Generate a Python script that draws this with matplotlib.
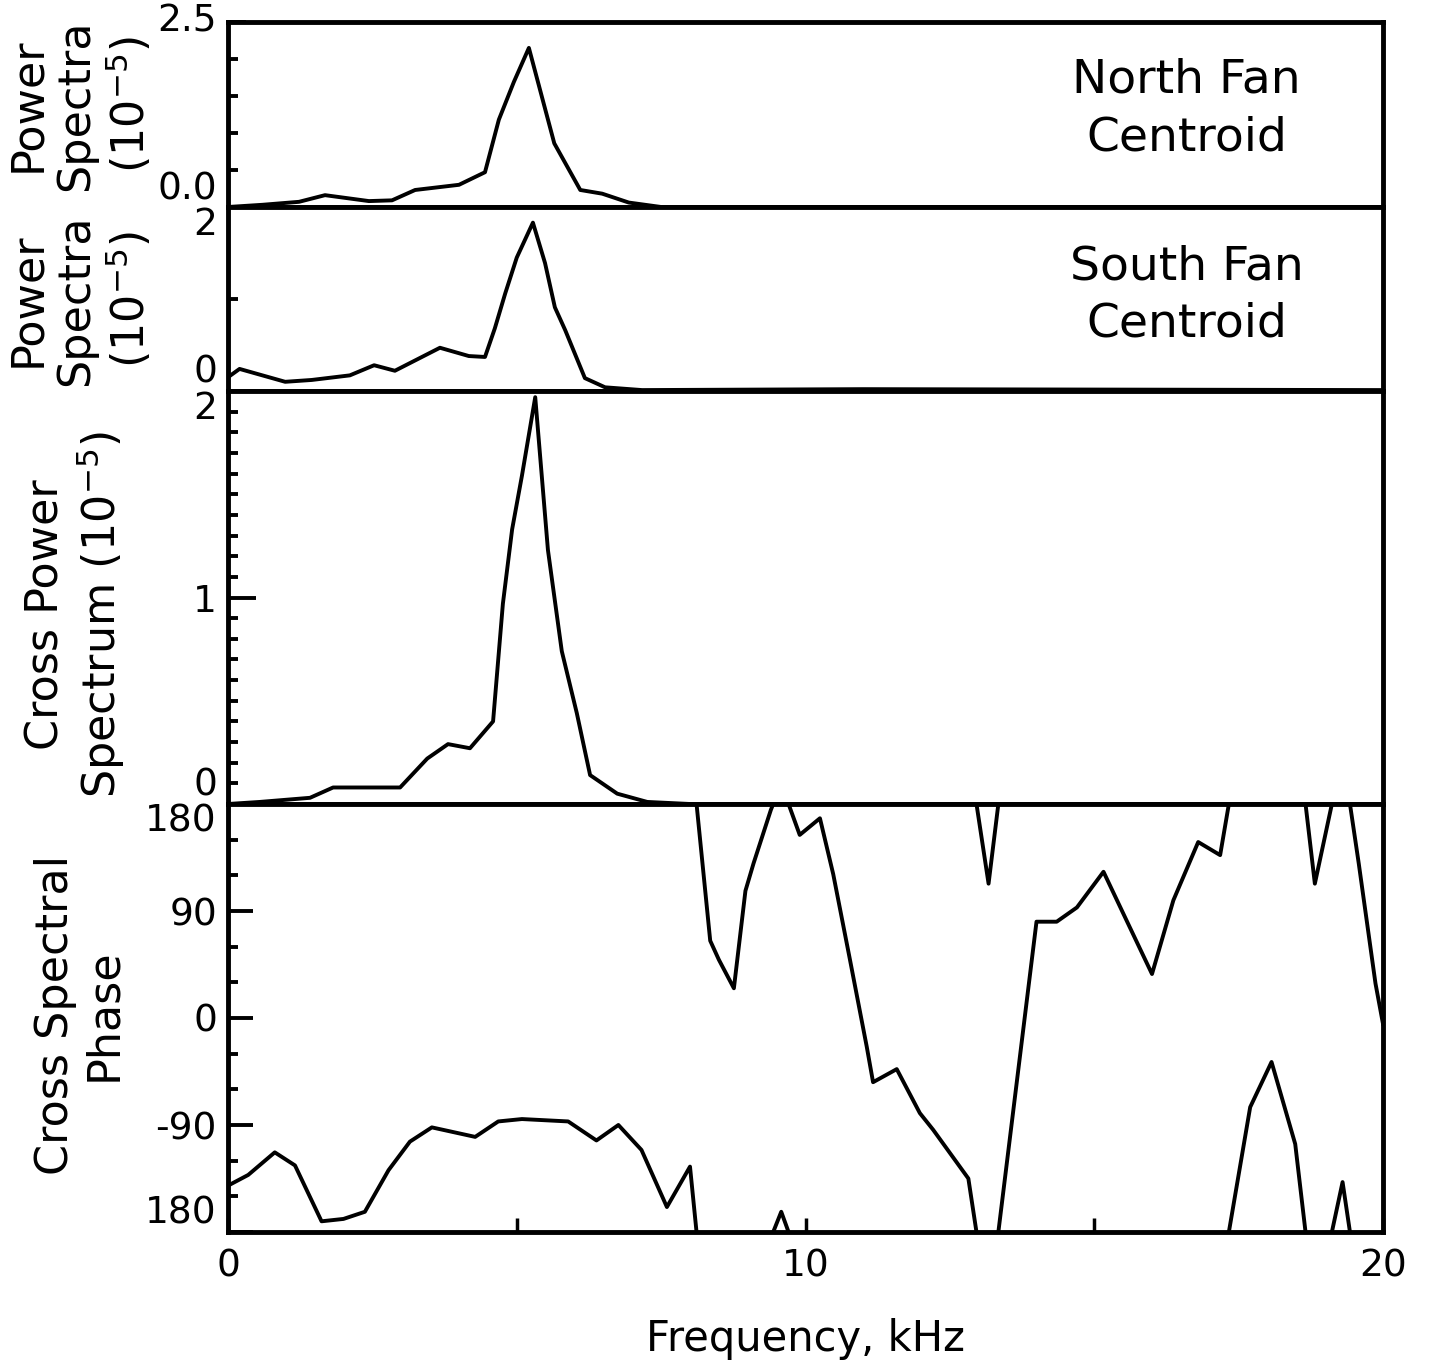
import numpy as np
import matplotlib
matplotlib.use("Agg")
import matplotlib.pyplot as plt

# North fan centroid power spectrum (1e-5)
north_freq = [0.0, 0.6, 1.23, 1.68, 2.44, 2.84, 3.24, 4.0, 4.45, 4.69, 4.95, 5.21,
              5.65, 6.1, 6.48, 6.94, 7.5, 20.0]
north_power = [0.0, 0.03, 0.07, 0.16, 0.08, 0.09, 0.23, 0.30, 0.47, 1.18, 1.69, 2.15,
               0.86, 0.23, 0.18, 0.06, 0.0, 0.0]

# South fan centroid power spectrum (1e-5)
south_freq = [0.0, 0.2, 0.99, 1.45, 2.11, 2.53, 2.89, 3.67, 4.17, 4.45, 4.62, 4.8,
              5.0, 5.28, 5.49, 5.66, 5.84, 6.18, 6.53, 7.17, 11.0, 20.0]
south_power = [0.15, 0.24, 0.10, 0.12, 0.17, 0.28, 0.22, 0.47, 0.38, 0.37, 0.68, 1.06,
               1.45, 1.83, 1.39, 0.91, 0.66, 0.14, 0.04, 0.01, 0.02, 0.01]

# cross power spectrum (1e-5)
cross_freq = [0.0, 0.55, 1.42, 1.82, 2.98, 3.45, 3.81, 4.19, 4.59, 4.76, 4.92, 5.09,
              5.32, 5.54, 5.78, 6.04, 6.27, 6.74, 7.26, 8.0, 20.0]
cross_power = [0.0, 0.01, 0.03, 0.08, 0.08, 0.22, 0.29, 0.27, 0.40, 0.97, 1.33, 1.59,
               1.97, 1.23, 0.74, 0.44, 0.14, 0.05, 0.01, 0.0, 0.0]

# cross spectral phase, degrees (unwrapped; drawn modulo 360)
phase_freq = [0.0, 0.35, 0.81, 1.16, 1.62, 2.0, 2.37, 2.78, 3.15, 3.53, 4.28, 4.68,
              5.09, 5.89, 6.38, 6.76, 7.16, 7.6, 8.0, 8.35, 8.5, 8.76, 8.96, 9.1,
              9.4, 9.58, 9.9, 10.25, 10.48, 10.77, 11.06, 11.17, 11.58, 11.98, 12.21,
              12.82, 13.17, 14.0, 14.35, 14.7, 15.16, 15.56, 16.0, 16.37, 16.8, 17.18,
              17.7, 18.07, 18.48, 18.82, 19.3, 19.58, 19.87, 20.0]
phase_deg = [-141, -132, -113, -124, -171, -169, -163, -128, -104, -92, -100, -87,
             -85, -87, -103, -90, -111, -159, -125, -295, -311, -335, -253, -230,
             -185, -163, -206, -192, -239, -311, -384, -414, -403, -440, -454,
             -495, -607, -279, -279, -267, -237, -278, -323, -261, -212, -223,
             -75, -37, -106, -247, -138, -230, -331, -365]

W, H = 1429, 1367
LEFT, RIGHT = 228, 1383
LW = 2.8
SPINE = 3.5

plt.rcParams["font.family"] = ["DejaVu Sans"]

fig = plt.figure(figsize=(W / 100, H / 100), dpi=100)


def box(top, bottom):
    return [LEFT / W, 1 - bottom / H, (RIGHT - LEFT) / W, (bottom - top) / H]


def style(ax):
    for s in ax.spines.values():
        s.set_linewidth(SPINE)
    ax.set_xlim(0, 20)
    ax.tick_params(axis="y", which="major", direction="in", length=13, width=2.8,
                   labelsize=27, pad=8)
    ax.tick_params(axis="y", which="minor", direction="in", length=7, width=2.8)
    ax.tick_params(axis="x", which="both", direction="in", length=10, width=2.5)


def edge_labels(ax, top_va="top"):
    labels = ax.get_yticklabels()
    labels[0].set_va("bottom")
    labels[-1].set_va(top_va)


ax1 = fig.add_axes(box(22, 207))
ax2 = fig.add_axes(box(207, 391))
ax3 = fig.add_axes(box(391, 804))
ax4 = fig.add_axes(box(804, 1232))

# north fan
ax1.plot(north_freq, north_power, color="black", lw=LW)
ax1.set_ylim(0, 2.5)
style(ax1)
ax1.set_yticks([0, 2.5])
ax1.set_yticklabels(["0.0", "2.5"])
ax1.set_yticks(np.arange(0.5, 2.5, 0.5), minor=True)
edge_labels(ax1, "center")
ax1.set_xticks([])
ax1.text(0.83, 0.53, "North Fan\nCentroid", transform=ax1.transAxes, ha="center",
         va="center", fontsize=34, linespacing=1.35)

# south fan
ax2.plot(south_freq, south_power, color="black", lw=LW)
ax2.set_ylim(0, 2)
style(ax2)
ax2.set_yticks([0, 2])
ax2.set_yticklabels(["0", "2"])
ax2.set_yticks([1], minor=True)
edge_labels(ax2)
ax2.set_xticks([])
ax2.text(0.83, 0.52, "South Fan\nCentroid", transform=ax2.transAxes, ha="center",
         va="center", fontsize=34, linespacing=1.35)

# cross power
ax3.plot(cross_freq, cross_power, color="black", lw=LW)
ax3.set_ylim(0, 2)
style(ax3)
ax3.set_yticks([0, 1, 2])
ax3.set_yticklabels(["0", "1", "2"])
ax3.set_yticks(np.arange(0.1, 2.0, 0.1), minor=True)
edge_labels(ax3)
ax3.tick_params(axis="y", which="major", length=20)
ax3.set_xticks([])

# phase, wrapped into [-180, 180]
for shift in (-360, 0, 360, 720):
    ax4.plot(phase_freq, np.array(phase_deg) + shift, color="black", lw=LW)
ax4.set_ylim(-180, 180)
style(ax4)
ax4.set_yticks([-180, -90, 0, 90, 180])
ax4.set_yticklabels(["180", "-90", "0", "90", "180"])
ax4.set_yticks(np.arange(-150, 180, 30), minor=True)
edge_labels(ax4)
ax4.set_xticks([0, 10, 20])
ax4.set_xticklabels(["0", "10", "20"])
ax4.set_xticks([5, 15], minor=True)
ax4.tick_params(axis="x", labelsize=27, pad=12)
ax4.tick_params(axis="y", which="major", length=18)
ax4.set_xlabel("Frequency, kHz", fontsize=30, labelpad=24)

# y axis titles
ylab = dict(rotation=90, ha="center", va="center", fontsize=32, linespacing=1.15,
            multialignment="center")
fig.text(80 / W, 1 - 105 / H, "Power\nSpectra\n(10$^{-5}$)", **ylab)
fig.text(80 / W, 1 - 300 / H, "Power\nSpectra\n(10$^{-5}$)", **ylab)
fig.text(76 / W, 1 - 615 / H, "Cross Power\nSpectrum (10$^{-5}$)", **ylab)
fig.text(80 / W, 1 - 1015 / H, "Cross Spectral\nPhase", **ylab)

fig.savefig("out.png", dpi=100)
